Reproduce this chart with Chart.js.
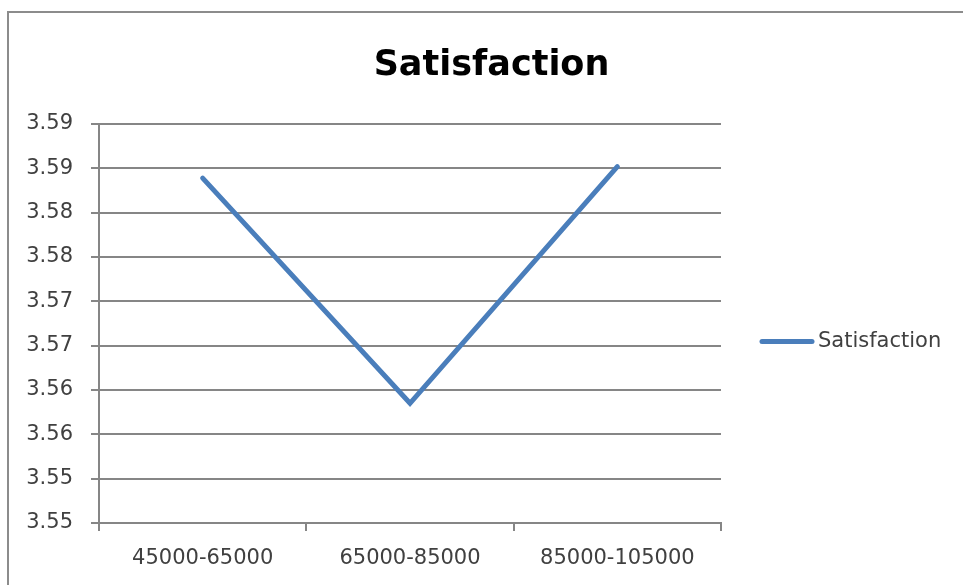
<!DOCTYPE html>
<html>
<head>
<meta charset="utf-8">
<script src="https://cdn.jsdelivr.net/npm/chart.js@4.4.1/dist/chart.umd.min.js"></script>
<style>
  html, body { margin: 0; padding: 0; background: #ffffff; }
  #wrap { width: 963px; height: 585px; }
</style>
</head>
<body>
<div id="wrap"><canvas id="c" width="963" height="585"></canvas></div>
<script>
// Income bands and mean satisfaction score per band
const categories = ['45000-65000', '65000-85000', '85000-105000'];
const satisfaction = [3.5889, 3.5635, 3.5902];

// Value axis: range, step and the two-decimal labels shown at each step (bottom to top)
const yMin = 3.55;
const yMax = 3.595;
const yStep = 0.005;
const yTickLabels = ['3.55', '3.55', '3.56', '3.56', '3.57', '3.57', '3.58', '3.58', '3.59', '3.59'];

const chartTitle = 'Satisfaction';
const seriesName = 'Satisfaction';

const LINE_COLOR = '#4a7ebb';
const GRID_COLOR = '#868686';
const TEXT_COLOR = '#404040';
const FONT = '"DejaVu Sans", sans-serif';

// White page with the grey frame around the chart object
const framePlugin = {
  id: 'frame',
  beforeDraw(chart) {
    const ctx = chart.ctx;
    ctx.save();
    ctx.fillStyle = '#ffffff';
    ctx.fillRect(0, 0, chart.width, chart.height);
    ctx.strokeStyle = '#8c8c8c';
    ctx.lineWidth = 2;
    ctx.strokeRect(8, 12, chart.width + 20, chart.height + 20);
    ctx.restore();
  }
};

// Bold centred heading above the plot
const headingPlugin = {
  id: 'heading',
  afterDraw(chart) {
    const ctx = chart.ctx;
    ctx.save();
    ctx.font = 'bold 35px ' + FONT;
    ctx.fillStyle = '#000000';
    ctx.textAlign = 'center';
    ctx.textBaseline = 'middle';
    ctx.fillText(chartTitle, chart.width / 2 + 10, chart.chartArea.top - 58);
    ctx.restore();
  }
};

// Series key to the right of the plot: line sample followed by the series name
const keyPlugin = {
  id: 'key',
  afterDraw(chart) {
    const ctx = chart.ctx;
    const area = chart.chartArea;
    const ds = chart.data.datasets[0];
    const x0 = area.right + 41;
    const y = (area.top + area.bottom) / 2 + 18;
    ctx.save();
    ctx.strokeStyle = ds.borderColor;
    ctx.lineWidth = ds.borderWidth;
    ctx.lineCap = 'round';
    ctx.beginPath();
    ctx.moveTo(x0, y);
    ctx.lineTo(x0 + 50, y);
    ctx.stroke();
    ctx.font = '21px ' + FONT;
    ctx.fillStyle = TEXT_COLOR;
    ctx.textAlign = 'left';
    ctx.textBaseline = 'middle';
    ctx.fillText(ds.label, x0 + 56, y);
    ctx.restore();
  }
};

new Chart(document.getElementById('c'), {
  type: 'line',
  data: {
    labels: categories,
    datasets: [{
      label: seriesName,
      data: satisfaction,
      borderColor: LINE_COLOR,
      borderWidth: 5,
      borderCapStyle: 'round',
      borderJoinStyle: 'miter',
      pointRadius: 0,
      pointHoverRadius: 0,
      tension: 0,
      fill: false
    }]
  },
  options: {
    responsive: false,
    animation: false,
    devicePixelRatio: 1,
    layout: { padding: { left: 0, right: 242, top: 124, bottom: 0 } },
    plugins: {
      legend: { display: false },
      title: { display: false },
      tooltip: { enabled: false }
    },
    scales: {
      x: {
        type: 'category',
        offset: true,
        afterFit(scale) { scale.height = 62; },
        grid: {
          offset: true,
          drawOnChartArea: false,
          drawTicks: true,
          tickLength: 8,
          color: GRID_COLOR,
          lineWidth: 2
        },
        border: { display: true, color: GRID_COLOR, width: 2 },
        ticks: {
          color: TEXT_COLOR,
          font: { family: FONT, size: 21 },
          padding: 15,
          maxRotation: 0,
          autoSkip: false
        }
      },
      y: {
        type: 'linear',
        min: yMin,
        max: yMax,
        afterFit(scale) { scale.width = 99; },
        grid: {
          color: GRID_COLOR,
          lineWidth: 2,
          drawTicks: true,
          tickLength: 8
        },
        border: { display: true, color: GRID_COLOR, width: 2 },
        ticks: {
          stepSize: yStep,
          color: TEXT_COLOR,
          font: { family: FONT, size: 21 },
          padding: 18,
          callback(value, index) { return yTickLabels[index]; }
        }
      }
    }
  },
  plugins: [framePlugin, headingPlugin, keyPlugin]
});
</script>
</body>
</html>
